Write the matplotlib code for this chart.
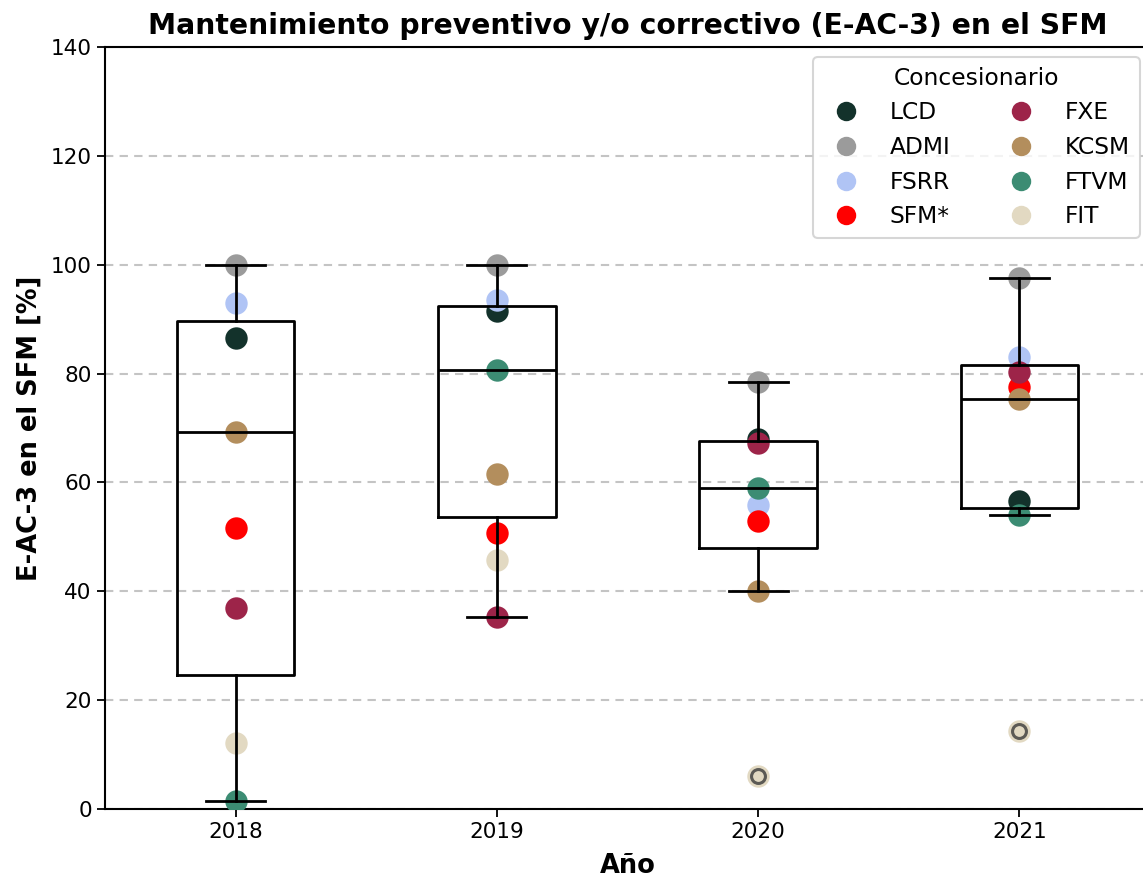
import matplotlib
matplotlib.use("Agg")
import matplotlib.pyplot as plt
from matplotlib.lines import Line2D
import numpy as np

# valores
years = ["2018", "2019", "2020", "2021"]
concesionarios = ["LCD", "ADMI", "FSRR", "SFM*", "FXE", "KCSM", "FTVM", "FIT"]
colores = ["#13322B", "#9B9B9B", "#B0C4F5", "#FF0000",
           "#9D2449", "#B38E5D", "#3C8C73", "#E2D9C2"]

lcd = [86.5, 91.5, 68.0, 56.5]
admi = [100.0, 100.0, 78.5, 97.5]
fsrr = [93.0, 93.5, 55.9, 83.1]
sfm = [51.7, 50.8, 52.9, 77.5]
fxe = [37.0, 35.3, 67.3, 80.2]
kcsm = [69.2, 61.5, 40.0, 75.4]
ftvm = [1.5, 80.6, 59.0, 54.1]
fit = [12.2, 45.7, 6.1, 14.3]

series = [lcd, admi, fsrr, sfm, fxe, kcsm, ftvm, fit]

plt.rcParams['font.family'] = ['DejaVu Sans']

fig = plt.figure(figsize=(11.43, 8.84), dpi=100)
ax = fig.add_axes([105/1143, 75/884, (1150-105)/1143, 762/884])

x = np.arange(len(years))

# la caja se calcula sin SFM* (es el total del sistema)
box_data = []
for i in range(len(years)):
    vals = [s[i] for name, s in zip(concesionarios, series) if name != "SFM*"]
    box_data.append(vals)

ax.boxplot(box_data, positions=x, widths=0.45, patch_artist=False,
           boxprops=dict(color="black", linewidth=2),
           whiskerprops=dict(color="black", linewidth=2),
           capprops=dict(color="black", linewidth=2),
           medianprops=dict(color="black", linewidth=2),
           flierprops=dict(marker="o", markerfacecolor="none",
                           markeredgecolor="#3a3a3a", markersize=10,
                           markeredgewidth=2.2, alpha=0.8),
           zorder=4)

for name, s, c in zip(concesionarios, series, colores):
    ax.scatter(x, s, s=260, color=c, zorder=3, linewidths=0, label=name)

ax.set_xlim(-0.5, 3.5)
ax.set_ylim(0, 140)
ax.set_yticks(np.arange(0, 141, 20))
ax.set_xticks(x)
ax.set_xticklabels(years)
ax.tick_params(labelsize=15.5, length=6, width=1.3)
for sp in ["left", "bottom", "top"]:
    ax.spines[sp].set_linewidth(1.5)
ax.spines["right"].set_visible(False)
ax.yaxis.grid(True, linestyle=(0, (4, 3)), color="#c4c4c4", linewidth=1.5)
ax.set_axisbelow(True)

ax.set_title("Mantenimiento preventivo y/o correctivo (E-AC-3) en el SFM",
             fontsize=20.3, fontweight="bold", pad=9)
ax.set_ylabel("E-AC-3 en el SFM [%]", fontsize=18.5, fontweight="bold", labelpad=6)
ax.set_xlabel("Año", fontsize=18.5, fontweight="bold", labelpad=8)

handles = [Line2D([0], [0], marker="o", linestyle="none", markersize=14,
                  markerfacecolor=c, markeredgewidth=0) for c in colores]
leg = ax.legend(handles, concesionarios, title="Concesionario", ncol=2,
                loc="upper right", fontsize=16.8, title_fontsize=16.8,
                columnspacing=2.0, handletextpad=0.9, labelspacing=0.5,
                framealpha=0.8, edgecolor="#cccccc", fancybox=True,
                borderaxespad=0.45)
leg.get_frame().set_linewidth(1.5)

fig.savefig("out.png", dpi=100)
